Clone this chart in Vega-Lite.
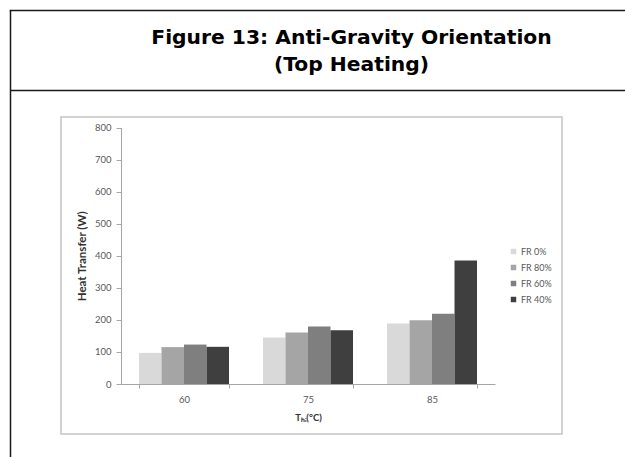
{
  "$schema": "https://vega.github.io/schema/vega-lite/v6.json",
  "background": "white",
  "autosize": {"type": "none"},
  "width": 501,
  "height": 317,
  "padding": {"left": 61, "top": 117, "right": 63, "bottom": 23},
  "config": {"view": {"stroke": "#c4c4c4", "strokeWidth": 1.5}, "font": "Lato"},
  "title": {
    "text": ["Figure 13: Anti-Gravity Orientation", "(Top Heating)"],
    "frame": "group", "anchor": "middle", "orient": "top", "offset": -65.5, "dx": 40,
    "font": "DejaVu Sans", "fontSize": 20.3, "fontWeight": "bold", "color": "#000000", "lineHeight": 27
  },
  "data": {"values": [
    {"temp": "60", "fr": "FR 0%", "value": 97},
    {"temp": "60", "fr": "FR 80%", "value": 115},
    {"temp": "60", "fr": "FR 60%", "value": 123},
    {"temp": "60", "fr": "FR 40%", "value": 116},
    {"temp": "75", "fr": "FR 0%", "value": 145},
    {"temp": "75", "fr": "FR 80%", "value": 161},
    {"temp": "75", "fr": "FR 60%", "value": 179},
    {"temp": "75", "fr": "FR 40%", "value": 168},
    {"temp": "85", "fr": "FR 0%", "value": 189},
    {"temp": "85", "fr": "FR 80%", "value": 199},
    {"temp": "85", "fr": "FR 60%", "value": 219},
    {"temp": "85", "fr": "FR 40%", "value": 385}
  ]},
  "resolve": {
    "scale": {"x": "independent", "y": "independent"},
    "axis": {"x": "independent", "y": "independent"}
  },
  "layer": [
    {
      "mark": {"type": "bar"},
      "encoding": {
        "x": {
          "field": "temp", "type": "nominal", "sort": ["60", "75", "85"],
          "scale": {"range": [60, 434], "paddingInner": 0.274, "paddingOuter": 0.145},
          "axis": {
            "orient": "bottom", "offset": -50, "labelAngle": 0,
            "title": "Tₕᵢ(°C)", "titleFont": "Lato", "titleFontSize": 9.5, "titleFontWeight": "bold", "titleColor": "#333333", "titlePadding": 9,
            "labelFont": "Lato", "labelFontSize": 9.5, "labelColor": "#595959", "labelPadding": 6,
            "domainColor": "#a6a6a6", "tickColor": "#a6a6a6", "tickSize": 4, "tickBand": "extent"
          }
        },
        "xOffset": {"field": "fr", "type": "nominal", "sort": ["FR 0%", "FR 80%", "FR 60%", "FR 40%"], "scale": {"paddingInner": 0, "paddingOuter": 0}},
        "y": {
          "field": "value", "type": "quantitative",
          "scale": {"domain": [0, 800], "range": [267, 10.5], "nice": false},
          "axis": {
            "orient": "left", "offset": -60, "values": [0, 100, 200, 300, 400, 500, 600, 700, 800], "grid": false,
            "title": "Heat Transfer (W)", "titleFont": "Lato", "titleFontSize": 11.5, "titleFontWeight": "bold", "titleColor": "#333333", "titlePadding": 7,
            "labelFont": "Lato", "labelFontSize": 9.5, "labelColor": "#595959", "labelPadding": 5,
            "domainColor": "#a6a6a6", "tickColor": "#a6a6a6", "tickSize": 5
          }
        },
        "color": {
          "field": "fr", "type": "nominal", "sort": ["FR 0%", "FR 80%", "FR 60%", "FR 40%"],
          "scale": {"domain": ["FR 0%", "FR 80%", "FR 60%", "FR 40%"], "range": ["#d9d9d9", "#a5a5a5", "#7f7f7f", "#3f3f3f"]},
          "legend": {
            "orient": "none", "legendX": 448, "legendY": 130, "title": null,
            "symbolType": "square", "symbolSize": 30, "symbolStrokeWidth": 0,
            "labelFont": "Lato", "labelFontSize": 9, "labelColor": "#595959", "labelOffset": 3, "rowPadding": 6, "padding": 0
          }
        }
      }
    },
    {
      "mark": {"type": "point", "opacity": 0},
      "encoding": {
        "x": {
          "field": "value", "type": "quantitative",
          "scale": {"domain": [0, 800], "range": [-51, 570], "nice": false},
          "axis": {"orient": "top", "offset": 27, "domain": true, "domainColor": "#1a1a1a", "domainWidth": 1.5, "ticks": false, "labels": false, "grid": false, "title": null}
        },
        "y": {
          "field": "value", "type": "quantitative",
          "scale": {"domain": [0, 800], "range": [345, -107.5], "nice": false},
          "axis": {"orient": "left", "offset": 51, "domain": true, "domainColor": "#1a1a1a", "domainWidth": 1.5, "ticks": false, "labels": false, "grid": false, "title": null}
        }
      }
    },
    {
      "mark": {"type": "point", "opacity": 0},
      "encoding": {
        "x": {
          "field": "value", "type": "quantitative",
          "scale": {"domain": [0, 800], "range": [-51.75, 570], "nice": false},
          "axis": {"orient": "top", "offset": 107, "domain": true, "domainColor": "#1a1a1a", "domainWidth": 1.5, "ticks": false, "labels": false, "grid": false, "title": null}
        }
      }
    }
  ]
}
